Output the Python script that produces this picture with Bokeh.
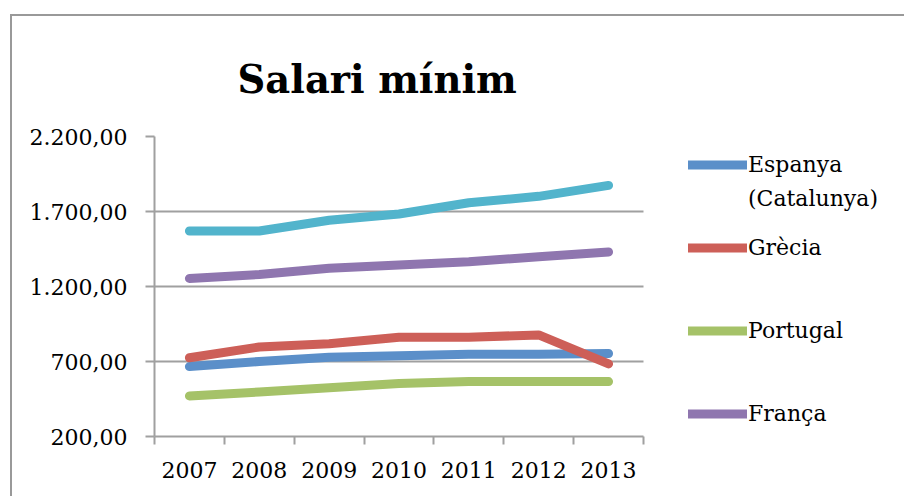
from bokeh.plotting import figure
from bokeh.models import (Range1d, FixedTicker, Legend, LegendItem, Label,
                          InlineStyleSheet)
from bokeh.embed import file_html
from bokeh.resources import INLINE

# ---- data ----
years = [2007, 2008, 2009, 2010, 2011, 2012, 2013]
year_labels = ["2007", "2008", "2009", "2010", "2011", "2012", "2013"]
espanya = [666, 700, 728, 739, 748, 748, 753]
grecia = [725, 797, 818, 862, 862, 877, 684]
portugal = [470, 497, 525, 554, 566, 566, 566]
franca = [1254, 1280, 1321, 1344, 1365, 1398, 1430]
luxemburg = [1570, 1570, 1642, 1683, 1758, 1801, 1874]
y_ticks = [200, 700, 1200, 1700, 2200]
y_tick_labels = ["200,00", "700,00", "1.200,00", "1.700,00", "2.200,00"]

series = [
    ("Espanya", espanya, "#5B8FC9"),
    ("Grècia", grecia, "#CD5F58"),
    ("Portugal", portugal, "#A5C268"),
    ("França", franca, "#8F76AF"),
    ("Luxemburg", luxemburg, "#52B4CC"),
]

FONT = "DejaVu Serif"
GRAY = "#a0a0a0"

# layout (pixels)
W, H = 904, 496
LEFT, TOP, BOTTOM = 154, 136, 60
AXIS_W = 489                      # width of the drawn axis area
FRAME_W = W - LEFT                # frame extends under the legend

x0 = years[0] - 0.5
x1 = years[-1] + 0.5
x_end = x0 + (x1 - x0) * FRAME_W / AXIS_W

p = figure(width=W, height=H, output_backend="svg", toolbar_location=None,
           x_range=Range1d(x0, x_end),
           y_range=Range1d(y_ticks[0], y_ticks[-1]),
           min_border_left=LEFT, min_border_right=0,
           min_border_top=TOP, min_border_bottom=BOTTOM)
p.outline_line_color = None
p.background_fill_color = "white"
p.border_fill_color = "white"
p.stylesheets = [InlineStyleSheet(css=""":host::after {
  content: ""; position: absolute; left: 10px; top: 14px;
  width: calc(100% - 10px); height: calc(100% - 14px);
  border-left: 2px solid #999999; border-top: 2px solid #999999;
  box-sizing: border-box; pointer-events: none; }""")]

# title
p.title.text = "Salari mínim"
p.title.text_font = FONT
p.title.text_font_style = "bold"
p.title.text_font_size = "38.5px"
p.title.align = "left"
p.title.offset = 83
p.title.standoff = 70
p.title.text_color = "black"

# x axis
xa = p.xaxis[0]
xa.bounds = (x0, x1)
xa.ticker = FixedTicker(ticks=years,
                        minor_ticks=[y - 0.5 for y in years] + [x1])
xa.major_label_overrides = {y: l for y, l in zip(years, year_labels)}
xa.major_tick_out = 0
xa.major_tick_in = 0
xa.minor_tick_out = 8
xa.minor_tick_in = 0
xa.minor_tick_line_color = GRAY
xa.minor_tick_line_width = 2
xa.axis_line_color = GRAY
xa.axis_line_width = 2
xa.major_label_text_font = FONT
xa.major_label_text_font_size = "22px"
xa.major_label_text_color = "black"
xa.major_label_standoff = 17

# y axis
ya = p.yaxis[0]
ya.ticker = FixedTicker(ticks=y_ticks, minor_ticks=[])
ya.major_label_overrides = {t: l for t, l in zip(y_ticks, y_tick_labels)}
ya.major_tick_out = 9
ya.major_tick_in = 0
ya.major_tick_line_color = GRAY
ya.major_tick_line_width = 2
ya.minor_tick_out = 0
ya.minor_tick_in = 0
ya.axis_line_color = GRAY
ya.axis_line_width = 2
ya.major_label_text_font = FONT
ya.major_label_text_font_size = "22px"
ya.major_label_text_color = "black"
ya.major_label_standoff = 18

p.xgrid.grid_line_color = None
p.ygrid.grid_line_color = GRAY
p.ygrid.grid_line_width = 2
p.ygrid.cross_bounds = (x0, x1)

items = []
for name, vals, color in series:
    r = p.line(years, vals, line_color=color, line_width=9,
               line_cap="round", line_join="round")
    if name != "Luxemburg":
        items.append(LegendItem(label=name, renderers=[r]))

legend = Legend(items=items, location=(534, 8.5), orientation="vertical",
                padding=0, margin=0, spacing=54,
                glyph_width=59, glyph_height=29, label_height=29,
                label_standoff=1, border_line_color=None,
                background_fill_alpha=0,
                label_text_font=FONT, label_text_font_size="22px",
                label_text_color="black")
p.add_layout(legend, "center")

p.add_layout(Label(x=593.5, y=238, x_units="screen", y_units="screen",
                   text="(Catalunya)", text_font=FONT, text_font_size="22px",
                   text_baseline="middle", text_color="black"))

open("out.html", "w").write(file_html(p, INLINE))
